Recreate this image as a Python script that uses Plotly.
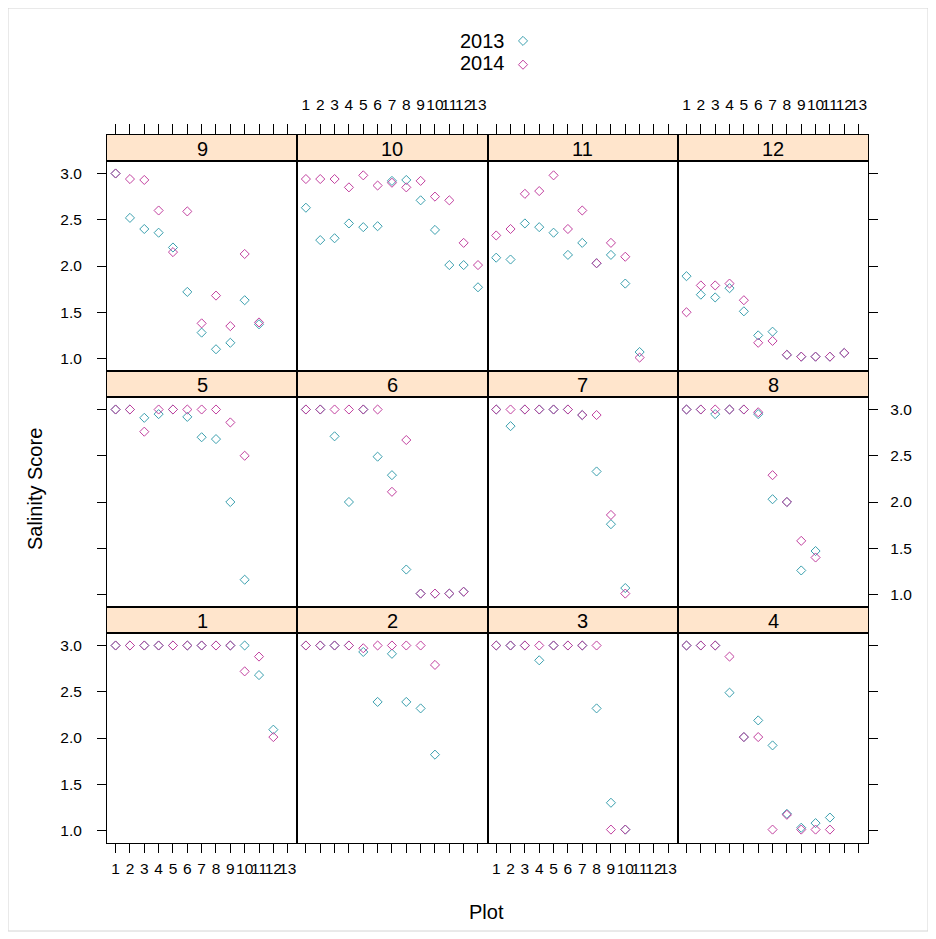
import plotly.graph_objects as go

# ---------------- data ----------------
x_plot = list(range(1, 14))
x_tick_labels = [str(i) for i in x_plot]
y_ticks = [1.0, 1.5, 2.0, 2.5, 3.0]
y_tick_labels = ["1.0", "1.5", "2.0", "2.5", "3.0"]
panel_names = [str(i) for i in range(1, 13)]
years = ["2013", "2014"]
year_colors = ["#3a9fae", "#c2409f"]

N = None
s2013_p1 = [3, 3, 3, 3, 3, 3, 3, 3, 3, 3.00, 2.68, 2.09, N]
s2014_p1 = [3, 3, 3, 3, 3, 3, 3, 3, 3, 2.72, 2.88, 2.01, N]
s2013_p2 = [3, 3, 3, 3.00, 2.93, 2.39, 2.91, 2.39, 2.32, 1.82, N, N, N]
s2014_p2 = [3, 3, 3, 3.00, 2.97, 3.00, 3.00, 3.00, 3.00, 2.79, N, N, N]
s2013_p3 = [3, 3, 3, 2.84, 3, 3, 3, 2.32, 1.30, 1.01, N, N, N]
s2014_p3 = [3, 3, 3, 3.00, 3, 3, 3, 3.00, 1.01, 1.01, N, N, N]
s2013_p4 = [3, 3, 3, 2.49, 2.01, 2.19, 1.92, 1.18, 1.03, 1.08, 1.14, N, N]
s2014_p4 = [3, 3, 3, 2.88, 2.01, 2.01, 1.01, 1.17, 1.01, 1.01, 1.01, N, N]
s2013_p5 = [3, 3, 2.91, 2.95, 3, 2.92, 2.70, 2.68, 2.00, 1.16, N, N, N]
s2014_p5 = [3, 3, 2.76, 3.00, 3, 3.00, 3.00, 3.00, 2.86, 2.50, N, N, N]
s2013_p6 = [3, 3, 2.71, 2.00, 3, 2.49, 2.29, 1.27, 1.01, 1.01, 1.01, 1.03, N]
s2014_p6 = [3, 3, 3.00, 3.00, 3, 3.00, 2.11, 2.67, 1.01, 1.01, 1.01, 1.03, N]
s2013_p7 = [3, 2.82, 3, 3, 3, 3, 2.94, 2.33, 1.76, 1.07, N, N, N]
s2014_p7 = [3, 3.00, 3, 3, 3, 3, 2.94, 2.94, 1.86, 1.01, N, N, N]
s2013_p8 = [3, 3, 2.95, 3, 3, 2.95, 2.03, 2.00, 1.26, 1.47, N, N, N]
s2014_p8 = [3, 3, 3.00, 3, 3, 2.97, 2.29, 2.00, 1.58, 1.40, N, N, N]
s2013_p9 = [3.00, 2.52, 2.40, 2.36, 2.20, 1.72, 1.28, 1.10, 1.17, 1.63, 1.37, N, N]
s2014_p9 = [3.00, 2.94, 2.93, 2.60, 2.15, 2.59, 1.38, 1.68, 1.35, 2.13, 1.39, N, N]
s2013_p10 = [2.63, 2.28, 2.30, 2.46, 2.42, 2.43, 2.92, 2.93, 2.71, 2.39, 2.01, 2.01, 1.77]
s2014_p10 = [2.94, 2.94, 2.94, 2.85, 2.98, 2.87, 2.90, 2.85, 2.92, 2.75, 2.71, 2.25, 2.01]
s2013_p11 = [2.09, 2.07, 2.46, 2.42, 2.36, 2.12, 2.25, 2.03, 2.12, 1.81, 1.07, N, N]
s2014_p11 = [2.33, 2.40, 2.78, 2.81, 2.98, 2.40, 2.60, 2.03, 2.25, 2.10, 1.01, N, N]
s2013_p12 = [1.89, 1.69, 1.66, 1.76, 1.51, 1.25, 1.29, 1.04, 1.02, 1.02, 1.02, 1.06, N]
s2014_p12 = [1.50, 1.79, 1.79, 1.81, 1.63, 1.17, 1.19, 1.04, 1.02, 1.02, 1.02, 1.06, N]

series_2013 = [s2013_p1, s2013_p2, s2013_p3, s2013_p4, s2013_p5, s2013_p6,
               s2013_p7, s2013_p8, s2013_p9, s2013_p10, s2013_p11, s2013_p12]
series_2014 = [s2014_p1, s2014_p2, s2014_p3, s2014_p4, s2014_p5, s2014_p6,
               s2014_p7, s2014_p8, s2014_p9, s2014_p10, s2014_p11, s2014_p12]

# ---------------- layout geometry ----------------
W, H = 936, 939
OFF = 8  # page body margin
FONT = "Liberation Sans, Arial, sans-serif"
TICK_SIZE = 15.5
TEXT_SIZE = 20
XR = [0.40, 13.67]
YR = [0.865, 3.135]
COL_LEFT = 107
COL_W = 190.3
STRIP_TOP0 = 135
ROW_PITCH = 236
STRIP_H = 26


def px(x):
    return (x - OFF) / W


def py(y):
    return 1 - (y - OFF) / H


def ax(prefix, n):
    return prefix if n == 1 else f"{prefix}{n}"


fig = go.Figure()
layout = {}
shapes = []
annotations = []
tickfont = dict(family=FONT, size=TICK_SIZE, color="black")

for i in range(12):
    p = i + 1
    s = 12 + p
    col = i % 4
    rowb = i // 4
    rtop = 2 - rowb
    strip_top = STRIP_TOP0 + ROW_PITCH * rtop
    panel_top = strip_top + STRIP_H
    panel_bot = strip_top + ROW_PITCH
    x0 = COL_LEFT + COL_W * col
    x1 = x0 + COL_W

    for yname, vals, colr in zip(years, [series_2013[i], series_2014[i]], year_colors):
        xs = [x for x, v in zip(x_plot, vals) if v is not None]
        ys = [v for v in vals if v is not None]
        fig.add_trace(go.Scatter(
            x=xs, y=ys, mode="markers",
            marker=dict(symbol="diamond-open", size=7, color=colr, line=dict(width=1, color=colr)),
            xaxis=ax("x", p), yaxis=ax("y", p),
            name=" ", legendgroup=yname, showlegend=(p == 1),
            hovertemplate=f"{yname} panel {panel_names[i]}: %{{x}}, %{{y}}<extra></extra>",
        ))
    # empty trace registering the strip subplot
    fig.add_trace(go.Scatter(x=[None], y=[None], xaxis=ax("x", s), yaxis=ax("y", s),
                             showlegend=False, hoverinfo="skip"))

    bottom = rowb == 0
    layout[f"xaxis{'' if p == 1 else p}"] = dict(
        domain=[px(x0), px(x1)], range=XR, anchor=ax("y", p),
        showline=True, mirror=True, linecolor="black", linewidth=1,
        showgrid=False, zeroline=False,
        tickmode="array", tickvals=x_plot, ticktext=x_tick_labels, tickangle=0,
        ticks="outside" if bottom else "", ticklen=9, tickcolor="black", tickwidth=1,
        showticklabels=bottom and col in (0, 2), side="bottom",
        tickfont=tickfont, ticklabelstandoff=2,
    )
    side = "left" if col == 0 else "right"
    has_ticks = col in (0, 3)
    show_lab = (col == 0 and rowb in (0, 2)) or (col == 3 and rowb == 1)
    layout[f"yaxis{'' if p == 1 else p}"] = dict(
        domain=[py(panel_bot), py(panel_top)], range=YR, anchor=ax("x", p),
        showline=True, mirror=True, linecolor="black", linewidth=1,
        showgrid=False, zeroline=False, side=side,
        tickmode="array", tickvals=y_ticks, ticktext=y_tick_labels,
        ticks="outside" if has_ticks else "", ticklen=9, tickcolor="black", tickwidth=1,
        showticklabels=show_lab,
        tickfont=tickfont, ticklabelstandoff=12 if col == 0 else 9,
    )
    top = rtop == 0
    layout[f"xaxis{s}"] = dict(
        domain=[px(x0), px(x1)], range=XR, anchor=ax("y", s),
        showline=True, mirror=True, linecolor="black", linewidth=1,
        showgrid=False, zeroline=False, side="top",
        tickmode="array", tickvals=x_plot, ticktext=x_tick_labels, tickangle=0,
        ticks="outside" if top else "", ticklen=10, tickcolor="black", tickwidth=1,
        showticklabels=top and col in (1, 3),
        tickfont=tickfont, ticklabelstandoff=8,
    )
    layout[f"yaxis{s}"] = dict(
        domain=[py(panel_top), py(strip_top)], range=[0, 1], anchor=ax("x", s),
        showline=True, mirror=True, linecolor="black", linewidth=1,
        showgrid=False, zeroline=False, showticklabels=False, ticks="",
    )
    shapes.append(dict(type="rect", xref=f"x{s} domain", yref=f"y{s} domain",
                       x0=0, x1=1, y0=0, y1=1, fillcolor="#ffe5cc",
                       line=dict(width=0), layer="below"))
    annotations.append(dict(text=panel_names[i], xref=f"x{s} domain", yref=f"y{s} domain",
                            x=0.5, y=0.45, showarrow=False,
                            font=dict(family=FONT, size=TEXT_SIZE, color="black")))

# legend texts (symbols drawn by plotly legend to their right)
for k, yname in enumerate(years):
    annotations.append(dict(text=yname, xref="paper", yref="paper",
                            x=px(507), y=py(41 + 22 * k), xanchor="right", yanchor="middle",
                            showarrow=False, font=dict(family=FONT, size=TEXT_SIZE, color="black")))

annotations.append(dict(text="Salinity Score", xref="paper", yref="paper",
                        x=px(35), y=py(489), textangle=-90, showarrow=False,
                        xanchor="center", yanchor="middle",
                        font=dict(family=FONT, size=TEXT_SIZE, color="black")))
annotations.append(dict(text="Plot", xref="paper", yref="paper",
                        x=px(487), y=py(912), showarrow=False,
                        xanchor="center", yanchor="middle",
                        font=dict(family=FONT, size=TEXT_SIZE, color="black")))

shapes.append(dict(type="rect", xref="paper", yref="paper",
                   x0=px(8), x1=px(928), y0=py(931), y1=py(8),
                   line=dict(color="#d4d4d4", width=1)))

fig.update_layout(
    width=W, height=H,
    margin=dict(l=0, r=0, t=0, b=0),
    paper_bgcolor="white", plot_bgcolor="white",
    showlegend=True,
    legend=dict(x=px(503), y=py(24), xanchor="left", yanchor="top",
                bgcolor="rgba(0,0,0,0)", font=dict(family=FONT, size=16),
                tracegroupgap=0, itemwidth=30),
    shapes=shapes, annotations=annotations,
    font=dict(family=FONT, color="black"),
    **layout,
)

fig.write_html("out.html")
